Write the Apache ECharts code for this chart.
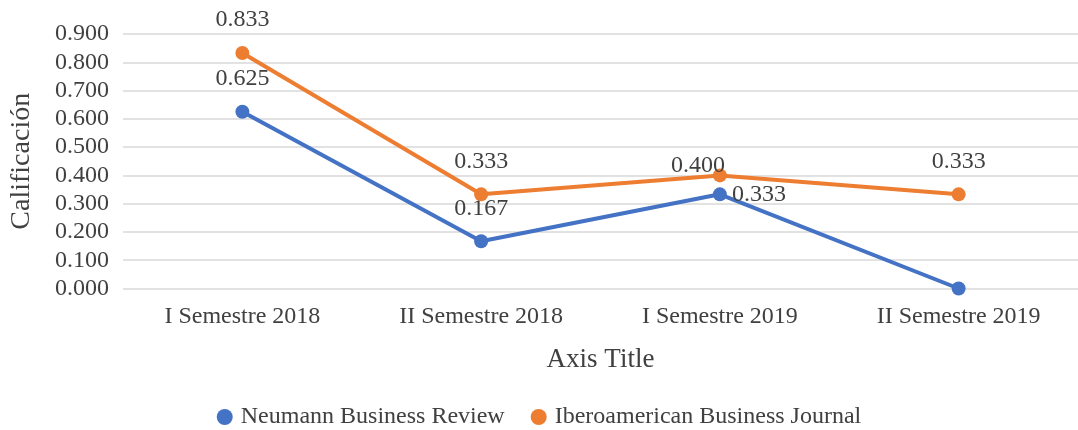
<!DOCTYPE html>
<html><head><meta charset="utf-8">
<script src="https://cdn.jsdelivr.net/npm/echarts@6/dist/echarts.min.js"></script>
<style>html,body{margin:0;padding:0;background:#fff}#c{width:1078px;height:430px}</style>
</head><body><div id="c"></div>
<script>
const categories = ["I Semestre 2018", "II Semestre 2018", "I Semestre 2019", "II Semestre 2019"];
const neumann = [0.625, 0.167, 0.333, 0.000];
const ibero = [0.833, 0.333, 0.400, 0.333];
const seriesNames = ["Neumann Business Review", "Iberoamerican Business Journal"];

const font = "Liberation Serif";
const txt = '#404040';
const chart = echarts.init(document.getElementById('c'));
chart.setOption({
  animation: false,
  textStyle: {fontFamily: font},
  grid: {left: 121, top: 34, width: 962, height: 254.5, containLabel: false},
  xAxis: {
    type: 'category', data: categories, boundaryGap: true,
    axisLine: {show: false}, axisTick: {show: false},
    axisLabel: {fontFamily: font, fontSize: 24, color: txt, margin: 16},
    name: 'Axis Title', nameLocation: 'middle', nameGap: 58,
    nameTextStyle: {fontFamily: font, fontSize: 27, color: txt}
  },
  yAxis: {
    type: 'value', min: 0, max: 0.9, interval: 0.1,
    axisLine: {show: false}, axisTick: {show: false},
    axisLabel: {fontFamily: font, fontSize: 24, color: txt, margin: 14,
      formatter: v => v.toFixed(3)},
    splitLine: {lineStyle: {color: '#d9d9d9', width: 1.5}},
    name: 'Calificación', nameLocation: 'middle', nameGap: 87,
    nameTextStyle: {fontFamily: font, fontSize: 28, color: txt}
  },
  legend: {
    top: 400, left: 'center', itemGap: 26, itemWidth: 22, itemHeight: 16,
    icon: 'circle',
    textStyle: {fontFamily: font, fontSize: 24, color: txt},
    data: seriesNames
  },
  series: [
    {
      name: seriesNames[0], type: 'line', data: neumann.map((v, i) => {
        const o = {value: v};
        if (i === 2) o.label = {position: 'right', distance: 5, offset: [0, 0]};
        if (i === 3) o.label = {show: false};
        return o;
      }),
      color: '#4472C4', lineStyle: {width: 4}, symbol: 'circle', symbolSize: 14,
      label: {show: true, position: 'top', distance: 14, fontFamily: font, fontSize: 24, color: txt,
        formatter: p => p.value.toFixed(3)},
      z: 2
    },
    {
      name: seriesNames[1], type: 'line', data: ibero.map((v, i) => {
        const o = {value: v};
        if (i === 2) o.label = {distance: -9, offset: [-22, 0]};
        return o;
      }),
      color: '#ED7D31', lineStyle: {width: 4}, symbol: 'circle', symbolSize: 14,
      label: {show: true, position: 'top', distance: 14, fontFamily: font, fontSize: 24, color: txt,
        formatter: p => p.value.toFixed(3)},
      z: 3
    }
  ]
});
</script></body></html>
